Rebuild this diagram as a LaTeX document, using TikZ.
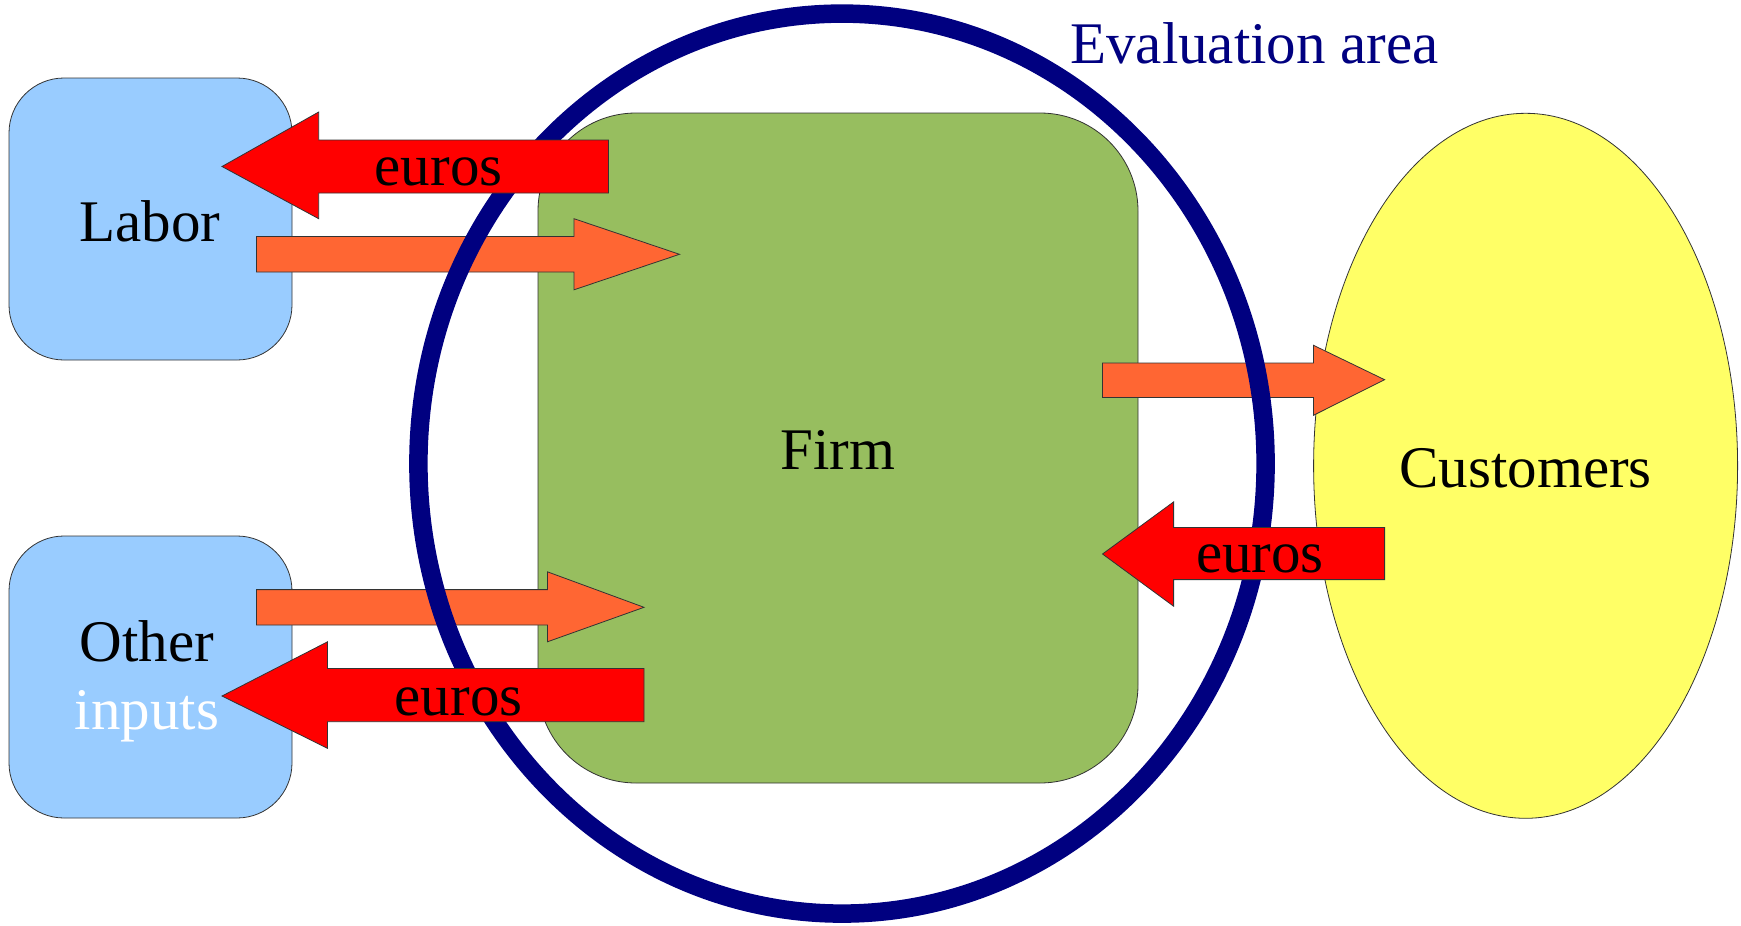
\documentclass[tikz,border=0pt]{standalone}
\usepackage{fontspec}
\setmainfont{Liberation Serif}
\begin{document}
\begin{tikzpicture}[x=1pt,y=-1pt,
  lbl/.style={font=\fontsize{59}{68}\selectfont, inner sep=0pt, align=center},
  outline/.style={draw=black!80, line width=0.8pt},
  inputbox/.style={outline, fill=inblue, rounded corners=55pt},
  firmbox/.style={outline, fill=firmgreen, rounded corners=98pt},
  goodsarrow/.style={outline, fill=goodsorange},
  moneyarrow/.style={outline, fill=moneyred},
]
\definecolor{inblue}{RGB}{153,204,255}
\definecolor{firmgreen}{RGB}{151,190,95}
\definecolor{custyellow}{RGB}{255,255,102}
\definecolor{goodsorange}{RGB}{255,102,51}
\definecolor{moneyred}{RGB}{255,0,0}
\definecolor{areanavy}{RGB}{0,0,128}

\useasboundingbox (0,0) rectangle (1741,926);

% suppliers, firm and customers
\draw[inputbox] (9,78) rectangle (292,360);
\draw[inputbox] (9,536) rectangle (292,818);
\draw[firmbox] (538,113) rectangle (1138,783);
\draw[outline, fill=custyellow] (1525.6,465.8) ellipse [x radius=212, y radius=352.5];

\node[lbl] (labor) at (150,221) {Labor};
\node[lbl] (other) at (147,681) {Other\\\textcolor{white}{inputs}};
\node[lbl] (firm) at (838,450) {Firm};
\node[lbl] (cust) at (1525.6,468.5) {Customers};

% flows of goods and services (under the area boundary)
\draw[goodsarrow] (256.5,236.5) -- (574,236.5) -- (574,218.7) -- (679.5,254.3)
  -- (574,289.8) -- (574,272) -- (256.5,272) -- cycle;
\draw[goodsarrow] (256.5,589.6) -- (547.4,589.6) -- (547.4,571.8) -- (644,607.3)
  -- (547.4,641.8) -- (547.4,625) -- (256.5,625) -- cycle;
\draw[goodsarrow] (1102.5,363) -- (1313.5,363) -- (1313.5,345.3) -- (1384.6,379.7)
  -- (1313.5,415.3) -- (1313.5,397.5) -- (1102.5,397.5) -- cycle;

% evaluation area boundary
\draw[areanavy, line width=18.5pt] (842,463.6) ellipse [x radius=423.6, y radius=450];
\node[lbl, text=areanavy] (area) at (1254.6,43) {Evaluation area};

% money flows (above the area boundary)
\draw[moneyarrow] (608.5,140) -- (318.7,140) -- (318.7,112) -- (222,166.5)
  -- (318.7,218.7) -- (318.7,193) -- (608.5,193) -- cycle;
\node[lbl] (eurosA) at (438.6,172) {euros};
\draw[moneyarrow] (644,668.4) -- (327.5,668.4) -- (327.5,641.8) -- (222,696)
  -- (327.5,748.3) -- (327.5,721.7) -- (644,721.7) -- cycle;
\node[lbl] (eurosB) at (458.6,702) {euros};
\draw[moneyarrow] (1384.6,527.4) -- (1173.6,527.4) -- (1173.6,501.9) -- (1102.5,554)
  -- (1173.6,606.2) -- (1173.6,579.6) -- (1384.6,579.6) -- cycle;
\node[lbl] (eurosC) at (1260,559) {euros};
\end{tikzpicture}
\end{document}
